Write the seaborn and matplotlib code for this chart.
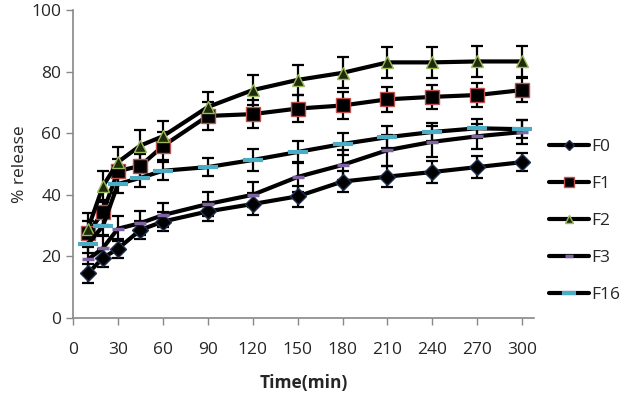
import matplotlib
matplotlib.use("Agg")
import matplotlib.pyplot as plt
import seaborn as sns
import pandas as pd

# release data (% release vs time)
time = [10, 20, 30, 45, 60, 90, 120, 150, 180, 210, 240, 270, 300]
f0 = [14.5, 19.5, 22.5, 28.6, 31.3, 34.6, 37.0, 39.5, 44.3, 45.9, 47.4, 49.0, 50.6]
f1 = [27.6, 34.3, 47.7, 49.4, 55.8, 65.6, 66.2, 68.0, 69.0, 71.0, 71.8, 72.4, 74.0]
f2 = [29.0, 42.8, 50.6, 56.0, 59.0, 68.5, 74.0, 77.3, 79.6, 83.0, 83.0, 83.3, 83.3]
f3 = [19.0, 22.7, 29.0, 30.8, 33.4, 37.0, 40.0, 45.8, 49.7, 54.5, 57.2, 59.0, 60.4]
f16 = [24.0, 29.9, 43.5, 45.5, 47.8, 49.0, 51.3, 53.9, 56.5, 58.7, 60.4, 61.6, 61.3]
err0 = [3, 3, 3, 3, 3, 3, 3.5, 3.5, 3.5, 3.5, 3.5, 3.5, 3]
err1 = [4, 4, 4, 4, 4.5, 4.5, 4.5, 4.5, 4.5, 4, 4, 4, 4]
err2 = [5, 5, 5, 5, 5, 5, 5, 5, 5, 5, 5, 5, 5]
err3 = [4, 4, 4, 4, 4, 4, 4, 5, 5, 5, 5, 4, 4]
err16 = [3, 3, 3, 3, 3, 3, 3.5, 3.5, 3.5, 3.5, 3, 3, 3]

names = ["F0", "F1", "F2", "F3", "F16"]
values = [f0, f1, f2, f3, f16]
errors = [err0, err1, err2, err3, err16]

sns.set_style("white")
plt.rcParams['font.family'] = ['Open Sans', 'DejaVu Sans']

styles = {
    "F0": dict(marker="D", ms=8, mfc="black", mec="#1f3050", mew=1),
    "F1": dict(marker="s", ms=10, mfc="black", mec="#c0504d", mew=1),
    "F2": dict(marker="^", ms=9, mfc="#1f2a0c", mec="#9bbb59", mew=1),
    "F3": dict(marker="_", ms=9, mfc="#8064a2", mec="#8064a2", mew=2.5),
    "F16": dict(marker="_", ms=14, mfc="#4bacc6", mec="#4bacc6", mew=3),
}

fig = plt.figure(figsize=(6.24, 4.09), dpi=100)
ax = fig.add_axes([0.117, 0.2225, 0.739, 0.753])

for name, vals, errs in zip(names, values, errors):
    ax.errorbar(time, vals, yerr=errs, fmt="none", ecolor="black",
                elinewidth=1.6, capsize=4.5, capthick=1.6, zorder=2)
    df = pd.DataFrame({"Time": time, "release": vals})
    sns.lineplot(data=df, x="Time", y="release", ax=ax, color="black",
                 lw=3, label=name, zorder=3, **styles[name])

ax.set_xlim(0, 308)
ax.set_ylim(0, 100)
ax.set_xticks(range(0, 301, 30))
ax.set_yticks(range(0, 101, 20))
ax.tick_params(axis="both", labelsize=12.5, length=5, width=1, color="#888888",
               direction="out", left=True, bottom=True)
ax.tick_params(axis="x", pad=12)
for side in ["top", "right"]:
    ax.spines[side].set_visible(False)
for side in ["left", "bottom"]:
    ax.spines[side].set_color("#888888")
    ax.spines[side].set_linewidth(1.2)

ax.set_xlabel("Time(min)", fontsize=12.5, fontweight="bold", labelpad=12)
ax.set_ylabel("% release", fontsize=12.5, labelpad=2)

ax.legend(loc="upper left", bbox_to_anchor=(0.868, 0.678), bbox_transform=fig.transFigure,
          frameon=False, fontsize=12.5, handlelength=2.3, handletextpad=0.15,
          labelspacing=1.2, borderaxespad=0, markerscale=0.7)

fig.savefig("out.png", dpi=100)
